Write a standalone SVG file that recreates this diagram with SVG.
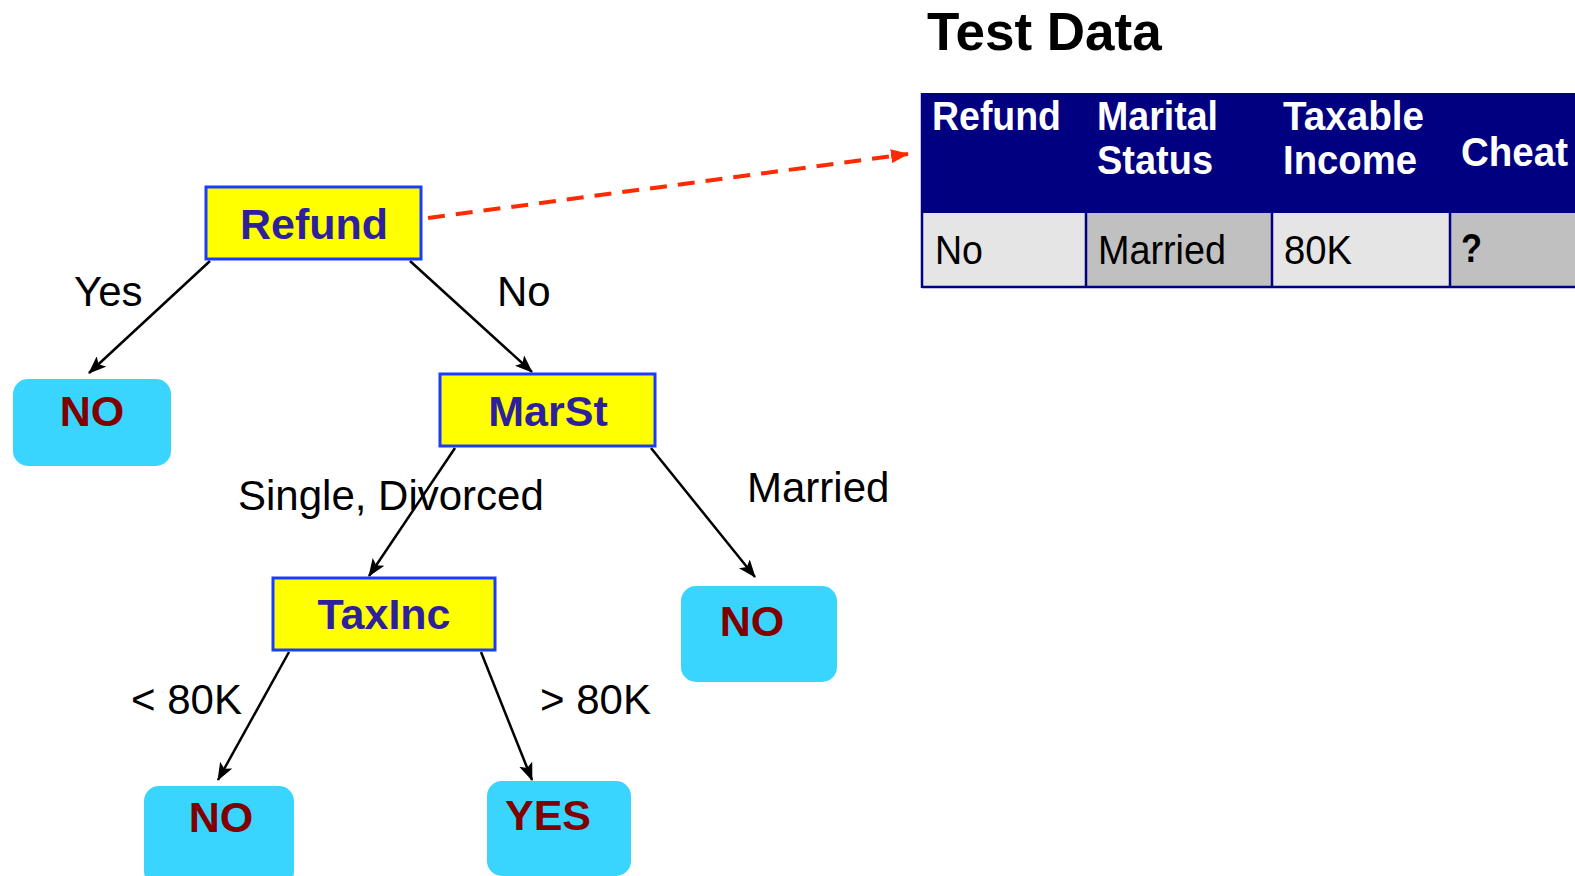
<svg xmlns="http://www.w3.org/2000/svg" width="1575" height="876" viewBox="0 0 1575 876">
<defs>
<marker id="ah" markerWidth="18" markerHeight="14" refX="17" refY="7" orient="auto" markerUnits="userSpaceOnUse">
<path d="M0,0 L18,7 L0,14 L4,7 Z" fill="#000"/>
</marker>
<marker id="ahr" markerWidth="18" markerHeight="14" refX="17" refY="7" orient="auto" markerUnits="userSpaceOnUse">
<path d="M0,0 L18,7 L0,14 Z" fill="#ff2a00"/>
</marker>
<style>
.dec{fill:#ffff00;stroke:#1a3cff;stroke-width:3}
.dect{font-family:"Liberation Sans",Arial,sans-serif;font-weight:bold;font-size:43px;fill:#2e1f9c;text-anchor:middle}
.leaf{fill:#3ad5ff}
.leaft{font-family:"Liberation Sans",Arial,sans-serif;font-weight:bold;font-size:43px;fill:#800000;text-anchor:middle}
.edge{stroke:#000;stroke-width:2.5;fill:none;marker-end:url(#ah)}
.lbl{font-family:"Liberation Sans",Arial,sans-serif;font-size:42px;fill:#000}
.th{font-family:"Liberation Sans",Arial,sans-serif;font-weight:bold;font-size:40px;fill:#fff}
.td{font-family:"Liberation Sans",Arial,sans-serif;font-size:40px;fill:#000}
</style>
</defs>
<rect width="1575" height="876" fill="#fff"/>

<g id="connectors">
<line class="edge" x1="210" y1="261" x2="89" y2="373"/>
<line class="edge" x1="410" y1="261" x2="532" y2="372"/>
<line class="edge" x1="455" y1="448" x2="369" y2="576"/>
<line class="edge" x1="651" y1="448" x2="755" y2="577"/>
<line class="edge" x1="289" y1="652" x2="218" y2="780"/>
<line class="edge" x1="481" y1="652" x2="532" y2="780"/>
<line x1="428" y1="218" x2="908" y2="154" stroke="#ff2a00" stroke-width="4" stroke-dasharray="17,11" marker-end="url(#ahr)"/>
</g>

<g id="labels">
<text class="lbl" x="74" y="306">Yes</text>
<text class="lbl" x="497" y="306">No</text>
<text class="lbl" x="238" y="510">Single, Divorced</text>
<text class="lbl" x="747" y="502">Married</text>
<text class="lbl" x="131" y="714">&lt; 80K</text>
<text class="lbl" x="540" y="714">&gt; 80K</text>
</g>

<g id="node-refund">
<rect class="dec" x="206" y="187" width="215" height="72"/>
<text class="dect" x="314" y="239">Refund</text>
</g>
<g id="node-no1">
<rect class="leaf" x="13" y="379" width="158" height="87" rx="15"/>
<text class="leaft" x="92" y="426">NO</text>
</g>
<g id="node-marst">
<rect class="dec" x="440" y="374" width="215" height="72"/>
<text class="dect" x="548" y="426">MarSt</text>
</g>
<g id="node-no2">
<rect class="leaf" x="681" y="586" width="156" height="96" rx="15"/>
<text class="leaft" x="752" y="636">NO</text>
</g>
<g id="node-taxinc">
<rect class="dec" x="273" y="578" width="222" height="72"/>
<text class="dect" x="384" y="629">TaxInc</text>
</g>
<g id="node-no3">
<rect class="leaf" x="144" y="786" width="150" height="100" rx="15"/>
<text class="leaft" x="221" y="832">NO</text>
</g>
<g id="node-yes">
<rect class="leaf" x="487" y="781" width="144" height="95" rx="15"/>
<text class="leaft" x="548" y="830">YES</text>
</g>

<g id="test-data">
<text x="927" y="50" font-family="'Liberation Sans',Arial,sans-serif" font-weight="bold" font-size="53" fill="#000">Test Data</text>
<rect x="922" y="93" width="660" height="120" fill="#000080"/>
<rect x="922" y="213" width="164" height="75" fill="#e5e5e5"/>
<rect x="1086" y="213" width="186" height="75" fill="#c0c0c0"/>
<rect x="1272" y="213" width="178" height="75" fill="#e5e5e5"/>
<rect x="1450" y="213" width="130" height="75" fill="#c0c0c0"/>
<g stroke="#000080" stroke-width="2.5">
<line x1="922" y1="93" x2="922" y2="288"/>
<line x1="1086" y1="213" x2="1086" y2="288"/>
<line x1="1272" y1="213" x2="1272" y2="288"/>
<line x1="1450" y1="213" x2="1450" y2="288"/>
<line x1="922" y1="287" x2="1580" y2="287"/>
</g>
<text class="th" x="932" y="130" textLength="129" lengthAdjust="spacingAndGlyphs">Refund</text>
<text class="th" x="1097" y="130" textLength="121" lengthAdjust="spacingAndGlyphs">Marital</text>
<text class="th" x="1097" y="174" textLength="116" lengthAdjust="spacingAndGlyphs">Status</text>
<text class="th" x="1283" y="130" textLength="141" lengthAdjust="spacingAndGlyphs">Taxable</text>
<text class="th" x="1283" y="174" textLength="134" lengthAdjust="spacingAndGlyphs">Income</text>
<text class="th" x="1461" y="166" textLength="107" lengthAdjust="spacingAndGlyphs">Cheat</text>
<text class="td" x="935" y="264" textLength="48" lengthAdjust="spacingAndGlyphs">No</text>
<text class="td" x="1098" y="264" textLength="128" lengthAdjust="spacingAndGlyphs">Married</text>
<text class="td" x="1284" y="264" textLength="68" lengthAdjust="spacingAndGlyphs">80K</text>
<text class="td" x="1461" y="262" font-weight="bold" textLength="21" lengthAdjust="spacingAndGlyphs">?</text>
</g>
</svg>
